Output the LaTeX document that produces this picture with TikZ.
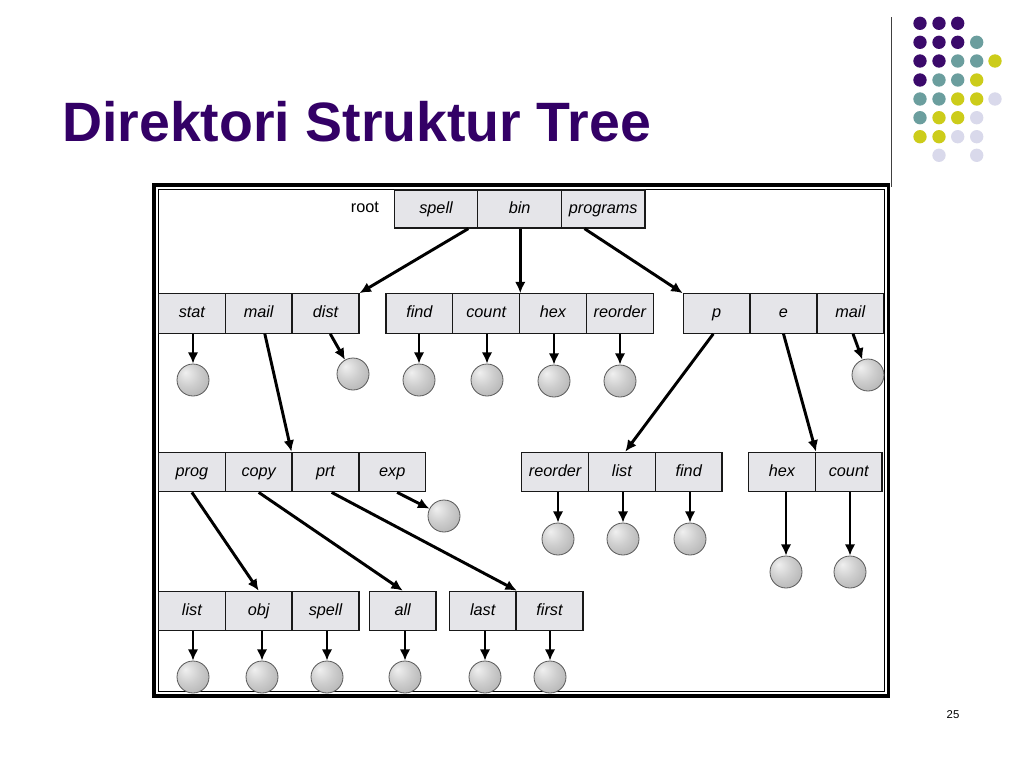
\documentclass[tikz,border=0pt]{standalone}
\usepackage{fontspec}
\setmainfont{Liberation Sans}
\usetikzlibrary{arrows.meta,calc}
\definecolor{titlepurple}{RGB}{51,0,102}
\definecolor{dpurple}{RGB}{59,10,107}
\definecolor{dteal}{RGB}{107,158,158}
\definecolor{dyellow}{RGB}{204,204,26}
\definecolor{dlav}{RGB}{217,217,235}
\definecolor{cellfill}{RGB}{229,229,233}
\pgfdeclareradialshading{sphereshade}{\pgfpoint{-12bp}{12bp}}{color(0bp)=(black!6); color(18bp)=(black!19); color(40bp)=(black!32); color(66bp)=(black!52)}
\begin{document}
\begin{tikzpicture}[x=0.75pt,y=-0.75pt,
  cellA/.style={draw=black!90, line width=1pt, fill=cellfill, minimum width=62.7pt, minimum height=28.5pt, inner sep=0pt, text height=8.8pt, text depth=2.6pt, font=\fontsize{12.2}{14}\selectfont\itshape},
  cellB/.style={cellA, minimum width=50.1pt, minimum height=29.55pt},
  sph/.style={circle, draw=black!65, line width=0.6pt, shading=sphereshade, minimum size=24pt, inner sep=0pt},
  arr/.style={line width=2.2pt, -{Latex[length=8.5pt,width=8pt]}},
  frameout/.style={line width=2.6pt},
  framein/.style={line width=0.75pt}
]
\useasboundingbox (0,0) rectangle (1024,768);
\fill[white] (0,0) rectangle (1024,768);
% title
\node[anchor=base west, text=titlepurple, font=\fontsize{41.6}{50}\selectfont\bfseries, inner sep=0pt] (title) at (62,141.5) {Direktori Struktur Tree};
% decoration
\draw[line width=0.8pt, black!75] (891.5,17) -- (891.5,187);
\foreach \x/\y/\c in {920/23.3/dpurple,939/23.3/dpurple,957.7/23.3/dpurple,
  920/42.3/dpurple,939/42.3/dpurple,957.7/42.3/dpurple,976.7/42.3/dteal,
  920/61/dpurple,939/61/dpurple,957.7/61/dteal,976.7/61/dteal,995/61/dyellow,
  920/80/dpurple,939/80/dteal,957.7/80/dteal,976.7/80/dyellow,
  920/99/dteal,939/99/dteal,957.7/99/dyellow,976.7/99/dyellow,995/99/dlav,
  920/117.7/dteal,939/117.7/dyellow,957.7/117.7/dyellow,976.7/117.7/dlav,
  920/136.7/dyellow,939/136.7/dyellow,957.7/136.7/dlav,976.7/136.7/dlav,
  939/155.3/dlav,976.7/155.3/dlav}
  \fill[\c] (\x,\y) circle[radius=5pt];
\node[font=\fontsize{8.5}{10}\selectfont] (pnum) at (953,715) {25};
% frame
\draw[frameout] (154,185) rectangle (888.5,696);
\draw[framein] (158.5,189.5) rectangle (884,691.5);
% row 1
\node[font=\fontsize{12.2}{14}\selectfont, text height=8.8pt, text depth=2.6pt] (root) at (365,208) {root};
\node[cellA] (spell) at (436,209) {spell};
\node[cellA] (bin) at (519.6,209) {bin};
\node[cellA] (programs) at (603.2,209) {programs};
% row 2
\node[cellB] (stat) at (191.9,313.5) {stat};
\node[cellB] (mail) at (258.7,313.5) {mail};
\node[cellB] (dist) at (325.5,313.5) {dist};
\node[cellB] (find) at (419.4,313.5) {find};
\node[cellB] (count) at (486.2,313.5) {count};
\node[cellB] (hex) at (553,313.5) {hex};
\node[cellB] (reorder) at (619.8,313.5) {reorder};
\node[cellB] (p) at (716.7,313.5) {p};
\node[cellB] (e) at (783.5,313.5) {e};
\node[cellB] (mailb) at (850.3,313.5) {mail};
% row 3
\node[cellB] (prog) at (191.9,472) {prog};
\node[cellB] (copy) at (258.7,472) {copy};
\node[cellB] (prt) at (325.5,472) {prt};
\node[cellB] (exp) at (392.3,472) {exp};
\node[cellB] (reorderb) at (555.1,472) {reorder};
\node[cellB] (listb) at (621.9,472) {list};
\node[cellB] (findb) at (688.7,472) {find};
\node[cellB] (hexb) at (781.9,472) {hex};
\node[cellB] (countb) at (848.7,472) {count};
% row 4
\node[cellB] (listc) at (191.9,611) {list};
\node[cellB] (obj) at (258.7,611) {obj};
\node[cellB] (spellc) at (325.5,611) {spell};
\node[cellB] (all) at (402.7,611) {all};
\node[cellB] (last) at (482.7,611) {last};
\node[cellB] (first) at (549.5,611) {first};
% spheres
\node[sph] (sstat) at (193,380) {};
\node[sph] (sdist) at (353,374) {};
\node[sph] (sfind) at (419,380) {};
\node[sph] (scount) at (487,380) {};
\node[sph] (shex) at (554,381) {};
\node[sph] (sreorder) at (620,381) {};
\node[sph] (smail) at (868,375) {};
\node[sph] (sexp) at (444,516) {};
\node[sph] (sreorderb) at (558,539) {};
\node[sph] (slistb) at (623,539) {};
\node[sph] (sfindb) at (690,539) {};
\node[sph] (shexb) at (786,572) {};
\node[sph] (scountb) at (850,572) {};
\node[sph] (slistc) at (193,677) {};
\node[sph] (sobj) at (262,677) {};
\node[sph] (sspellc) at (327,677) {};
\node[sph] (sall) at (405,677) {};
\node[sph] (slast) at (485,677) {};
\node[sph] (sfirst) at (550,677) {};
% straight arrows
\foreach \c/\s in {stat/sstat,find/sfind,count/scount,hex/shex,reorder/sreorder,
  reorderb/sreorderb,listb/slistb,findb/sfindb,hexb/shexb,countb/scountb,
  listc/slistc,obj/sobj,spellc/sspellc,all/sall,last/slast,first/sfirst}
  \draw[arr] (\c.south -| \s.north) -- (\s.north);
% diagonal arrows
\draw[arr] ($(spell.south west)!0.88!(spell.south east)$) -- (dist.north east);
\draw[arr] (bin.south -| count.north east) -- (count.north east);
\draw[arr] ($(programs.south west)!0.28!(programs.south east)$) -- (p.north west);
\draw[arr] ($(mail.south west)!0.59!(mail.south east)$) -- (prt.north west);
\draw[arr] ($(dist.south west)!0.57!(dist.south east)$) -- (sdist);
\draw[arr] ($(mailb.south west)!0.54!(mailb.south east)$) -- (smail);
\draw[arr] ($(p.south west)!0.45!(p.south east)$) -- ($(listb.north west)!0.55!(listb.north east)$);
\draw[arr] (e.south) -- (hexb.north east);
\draw[arr] (prog.south) -- (obj.north);
\draw[arr] (copy.south) -- (all.north);
\draw[arr] ($(prt.south west)!0.59!(prt.south east)$) -- (last.north east);
\draw[arr] ($(exp.south west)!0.57!(exp.south east)$) -- (sexp);
\end{tikzpicture}
\end{document}
